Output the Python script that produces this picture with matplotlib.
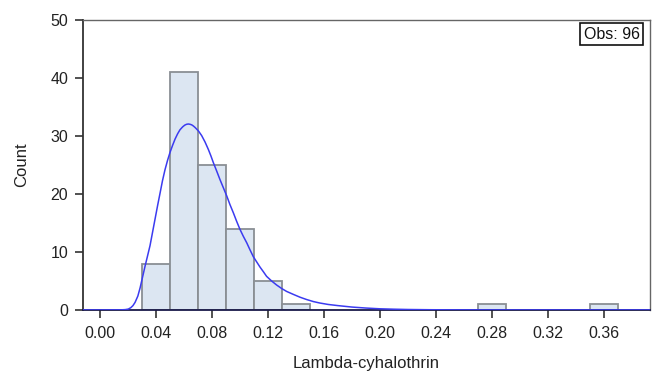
import matplotlib.pyplot as plt

plt.rcParams['font.family'] = ['Liberation Sans', 'DejaVu Sans']

# Histogram bins (left edges) and counts, bin width 0.02
bin_left = [0.03, 0.05, 0.07, 0.09, 0.11, 0.13, 0.27, 0.35]
counts = [8, 41, 25, 14, 5, 1, 1, 1]
bin_width = 0.02

# Fitted density curve (in counts)
curve_x = [-0.0124, 0.0, 0.015, 0.018, 0.0202, 0.022, 0.0235, 0.025, 0.027,
           0.0286, 0.0303, 0.0321, 0.0339, 0.0357, 0.0375, 0.0393, 0.0411,
           0.0429, 0.0446, 0.0464, 0.0482, 0.05, 0.0518, 0.0536, 0.0554,
           0.0571, 0.059, 0.0605, 0.0618, 0.0631, 0.0643, 0.0655, 0.0667,
           0.0679, 0.0703, 0.0726, 0.075, 0.0774, 0.0792, 0.081, 0.0833,
           0.0857, 0.0881, 0.0905, 0.0928, 0.0952, 0.0976, 0.1, 0.1024,
           0.1048, 0.1071, 0.1095, 0.1119, 0.1143, 0.1167, 0.119, 0.1226,
           0.1262, 0.1298, 0.1333, 0.138, 0.1429, 0.1476, 0.1524, 0.157,
           0.163, 0.17, 0.18, 0.19, 0.20, 0.21, 0.22, 0.235, 0.25, 0.27,
           0.30, 0.393]
curve_y = [0, 0, 0.02, 0.06, 0.15, 0.4, 0.75, 1.3, 2.4,
           3.8, 5.6, 7.5, 9.3, 11.1, 13.4, 15.7, 18.0,
           20.2, 22.3, 24.2, 25.8, 27.2, 28.4, 29.5, 30.4,
           31.1, 31.6, 31.9, 32.05, 32.1, 32.05, 31.95, 31.75,
           31.5, 30.9, 30.1, 29.0, 27.7, 26.6, 25.4, 24.0,
           22.5, 21.1, 19.7, 18.2, 16.8, 15.3, 13.9, 12.7,
           11.6, 10.4, 9.2, 8.3, 7.4, 6.6, 5.8, 5.0,
           4.3, 3.7, 3.2, 2.7, 2.2, 1.8, 1.45, 1.2,
           0.95, 0.75, 0.5, 0.33, 0.2, 0.13, 0.08, 0.04, 0.02, 0.01,
           0, 0]

x_ticks = [0.00, 0.04, 0.08, 0.12, 0.16, 0.20, 0.24, 0.28, 0.32, 0.36]
y_ticks = [0, 10, 20, 30, 40, 50]
n_obs = sum(counts)

fig = plt.figure(figsize=(6.59, 3.78), dpi=100)
ax = fig.add_axes([0.1255, 0.180, 0.8609, 0.7663])

ax.bar(bin_left, counts, width=bin_width, align='edge',
       color='#dce6f2', edgecolor='#8a8f94', linewidth=1.3, zorder=2)
ax.plot(curve_x, curve_y, color='#3b3bf0', linewidth=1.1, zorder=3)

ax.set_xlim(-0.0124, 0.393)
ax.set_ylim(0, 50)
ax.set_xticks(x_ticks)
ax.set_xticklabels([f'{t:.2f}' for t in x_ticks])
ax.set_yticks(y_ticks)
ax.tick_params(direction='out', length=6, width=1.2, color='#333333',
               labelsize=11.5, labelcolor='#222222')
ax.tick_params(axis='x', pad=5.5)
ax.tick_params(axis='y', pad=4.5)

for side in ['top', 'right']:
    ax.spines[side].set_color('#666666')
    ax.spines[side].set_linewidth(1.0)
for side in ['left', 'bottom']:
    ax.spines[side].set_color('#333333')
    ax.spines[side].set_linewidth(1.3)
ax.spines['bottom'].set_color('#1a1a4a')

ax.set_xlabel('Lambda-cyhalothrin', fontsize=12, color='#222222', labelpad=11)
ax.set_ylabel('Count', fontsize=12, color='#222222', labelpad=15)

ax.text(0.982, 0.977, f'Obs: {n_obs}', transform=ax.transAxes,
        ha='right', va='top', fontsize=11.5, color='#111111',
        bbox=dict(boxstyle='square,pad=0.22', facecolor='white',
                  edgecolor='#111111', linewidth=1.2))

fig.savefig('out.png', dpi=100)
